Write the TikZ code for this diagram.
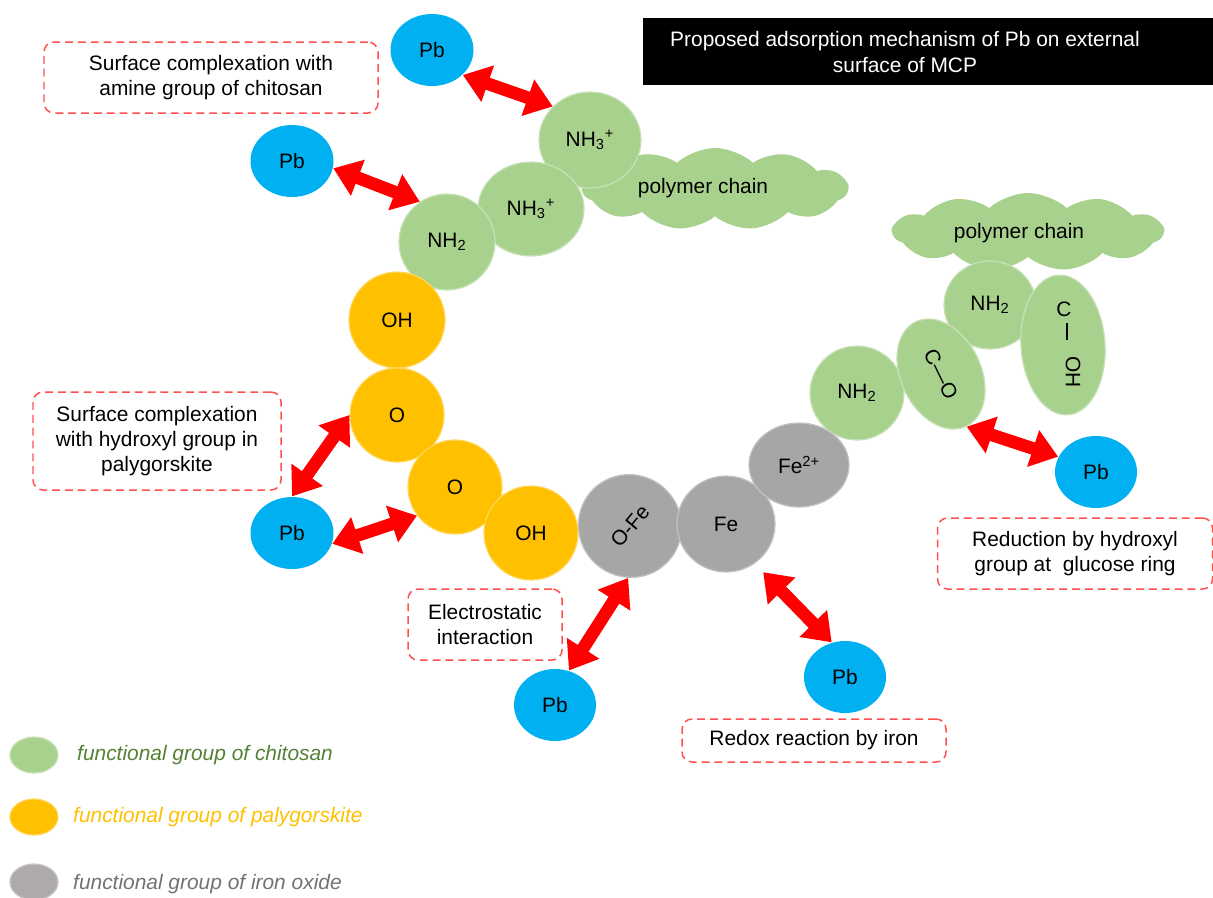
\documentclass[tikz,border=0pt]{standalone}
\usepackage{fontspec}
\setmainfont{Liberation Sans}
\usetikzlibrary{shapes.geometric,shapes.symbols,arrows.meta}
\definecolor{cgreen}{HTML}{A9D18E}
\definecolor{corange}{HTML}{FFC000}
\definecolor{cgrey}{HTML}{A6A6A6}
\definecolor{cblue}{HTML}{00B0F0}
\definecolor{cred}{HTML}{FF0000}
\definecolor{cdash}{HTML}{FF5050}
\definecolor{lgreen}{HTML}{548235}
\definecolor{lgrey}{HTML}{767171}
\definecolor{lgball}{HTML}{AEAAAA}
\tikzset{
  every node/.style={font=\fontsize{11.9}{14.3}\selectfont},
  ball/.style={ellipse, inner sep=0pt, line width=0.7pt},
  gball/.style={ball, fill=cgreen, draw=cgreen!65!white},
  oball/.style={ball, fill=corange, draw=corange!65!white},
  kball/.style={ball, fill=cgrey, draw=cgrey!70!white},
  pbball/.style={ball, fill=cblue, draw=none, minimum width=83*0.02cm, minimum height=72*0.02cm},
  sz/.style 2 args={minimum width=#1*0.04cm, minimum height=#2*0.04cm},
  dbox/.style={draw=cdash, dash pattern=on 4.5pt off 2.8pt, rounded corners=10*0.02cm, line width=0.85pt, align=center, inner sep=0pt},
  dsz/.style 2 args={minimum width=#1*0.02cm, minimum height=#2*0.02cm},
  dbl/.style={draw=cred, line width=7.2pt, {Triangle[length=15pt,width=21pt]}-{Triangle[length=15pt,width=21pt]}},
  pcloud/.style={cloud, cloud puffs=11, cloud puff arc=85, fill=cgreen, draw=none, inner sep=0pt},
  lgtext/.style={anchor=west, font=\fontsize{11.9}{14.3}\selectfont\itshape},
}
\begin{document}
\begin{tikzpicture}[x=0.02cm,y=-0.02cm]
\useasboundingbox (0,0) rectangle (1213,897);

% title
\node[fill=black, minimum width=570*0.02cm, minimum height=67*0.02cm, inner sep=0pt] (titlebg) at (928,51.5) {};
\node[text=white, align=center] (title) at (905,52) {Proposed adsorption mechanism of Pb on external\\surface of MCP};

% polymer chain clouds
\node[pcloud, aspect=3.27, minimum width=265*0.02cm, minimum height=82*0.02cm] (cloudA) at (715,189) {};
\node (cloudAt) at (703,188) {polymer chain};
\node[pcloud, aspect=3.6, minimum width=270*0.02cm, minimum height=78*0.02cm] (cloudB) at (1028,232) {};
\node (cloudBt) at (1019,233) {polymer chain};

% chitosan groups
\node[gball, sz={51}{48}] (nh3a) at (590,140) {NH\textsubscript{3}\textsuperscript{+}};
\node[gball, sz={53}{47}] (nh3b) at (531,209) {NH\textsubscript{3}\textsuperscript{+}};
\node[gball, sz={48}{48}] (nh2a) at (447,242) {NH\textsubscript{2}};
\node[gball, sz={47}{47}] (nh2b) at (857,393) {NH\textsubscript{2}};
\node[gball, sz={46}{44}] (nh2c) at (990,305) {NH\textsubscript{2}};
\node[gball, minimum width=84*0.02cm, minimum height=140*0.02cm, rotate=4] (coh) at (1063,345) {};
\node (cohC) at (1064,309) {C};
\node[inner sep=0pt] (cohbar) at (1067,331) {\rule{0.8pt}{0.34cm}};
\node[rotate=-90] (cohOH) at (1073,372) {OH};
\node[gball, minimum width=116*0.02cm, minimum height=80*0.02cm, rotate=-64] (co) at (941,374) {C—O};

% palygorskite groups
\node[oball, sz={48}{48}] (oh1) at (397,320) {OH};
\node[oball, sz={47}{47}] (o1) at (397,415) {O};
\node[oball, sz={47}{47}] (o2) at (455,487) {O};
\node[oball, sz={47}{47}] (oh2) at (531,533) {OH};

% iron oxide groups
\node[kball, sz={51}{52}, rotate=50] (ofe) at (630,526) {O-Fe};
\node[kball, sz={49}{48}] (fe) at (726,524) {Fe};
\node[kball, sz={50}{42}] (fe2) at (799,465) {Fe\textsuperscript{2+}};

% Pb
\node[pbball] (pb1) at (432,50) {Pb};
\node[pbball] (pb2) at (292,161) {Pb};
\node[pbball] (pb3) at (292,533) {Pb};
\node[pbball, minimum width=82*0.02cm] (pb4) at (555,705) {Pb};
\node[pbball, minimum width=82*0.02cm] (pb5) at (845,677) {Pb};
\node[pbball, minimum width=82*0.02cm] (pb6) at (1096,472) {Pb};

% arrows
\draw[dbl] (pb1.-39) -- (nh3a.138);
\draw[dbl] (pb2.-10) -- (nh2a.124);
\draw[dbl] (pb3.90) -- (o1.180);
\draw[dbl] (pb3.-15) -- (o2.-143);
\draw[dbl] (pb4.68) -- (ofe.-142);
\draw[dbl, shorten >=0.24cm] (pb5.111) -- (fe.-54);
\draw[dbl] (co.east) -- (pb6.158);

% dashed boxes
\node[dbox, dsz={334}{71}] (b1) at (211,77.5) {Surface complexation with\\amine group of chitosan};
\node[dbox, dsz={248}{98}] (b2) at (157,441) {Surface complexation\\with hydroxyl group in\\palygorskite};
\node[dbox, dsz={154}{71}] (b3) at (485,624.5) {Electrostatic\\interaction};
\node[dbox, dsz={264}{43}] (b4) at (814,740.5) {Redox reaction by iron};
\node[dbox, dsz={275}{71}] (b5) at (1075,553.5) {Reduction by hydroxyl\\group at\ \ glucose ring};

% legend
\node[ball, fill=cgreen, draw=cgreen!65!white, sz={24}{18}] (lg1) at (34,755) {};
\node[lgtext, text=lgreen] (lt1) at (71,755) {functional group of chitosan};
\node[ball, fill=corange, draw=corange!65!white, sz={24}{18}] (lg2) at (34,817) {};
\node[lgtext, text=corange] (lt2) at (67,817) {functional group of palygorskite};
\node[ball, fill=lgball, draw=lgball!70!white, sz={24}{18}] (lg3) at (34,882) {};
\node[lgtext, text=lgrey] (lt3) at (67,884) {functional group of iron oxide};
\end{tikzpicture}
\end{document}
